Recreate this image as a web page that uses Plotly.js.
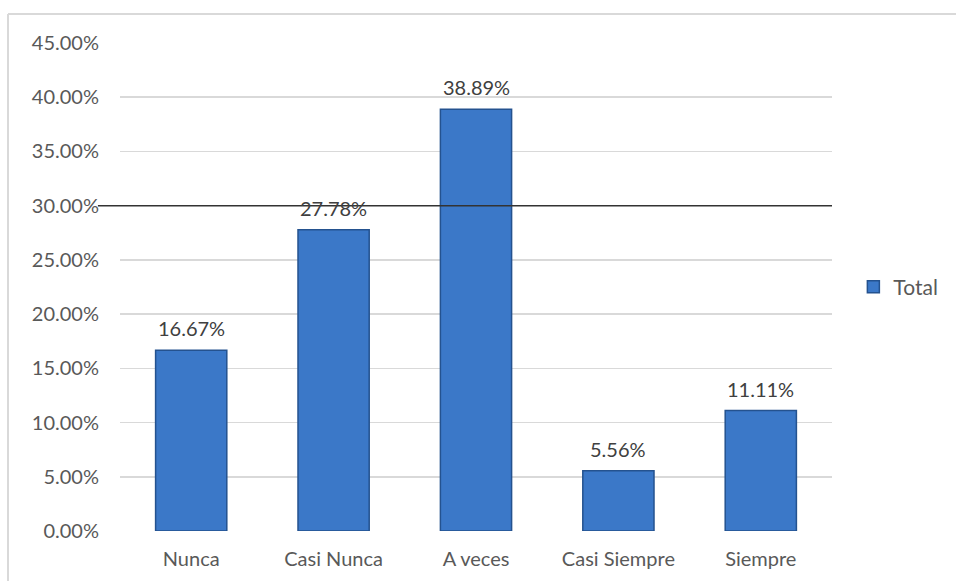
<!DOCTYPE html>
<html><head><meta charset="utf-8">
<script src="https://cdn.plot.ly/plotly-3.0.1.min.js"></script>
<style>html,body{margin:0;padding:0;background:#fff;}#c{width:956px;height:581px;}</style>
</head><body><div id="c"></div>
<script>
const categories = ["Nunca", "Casi Nunca", "A veces", "Casi Siempre", "Siempre"];
const totals = [0.1667, 0.2778, 0.3889, 0.0556, 0.1111];
const tickValues = [0, 0.05, 0.10, 0.15, 0.20, 0.25, 0.30, 0.35, 0.40, 0.45];
const referenceLine = 0.30;
const seriesName = "Total";

const font = "Lato, 'Open Sans', sans-serif";
const txt = "#595959";

const trace = {
  type: "bar", x: categories, y: totals, name: seriesName,
  marker: {color: "#3b78c8", line: {color: "#24528f", width: 1.5}},
  width: 0.5, showlegend: true, hoverinfo: "none"
};

const annotations = categories.map((c, i) => ({
  x: c, y: totals[i], xref: "x", yref: "y",
  text: (totals[i] * 100).toFixed(2) + "%",
  showarrow: false, yanchor: "bottom", yshift: 8,
  font: {family: font, size: 20, color: "#404040"}
}));

const layout = {
  width: 956, height: 581,
  margin: {l: 120, r: 124, t: 43, b: 50, autoexpand: false},
  paper_bgcolor: "#fff", plot_bgcolor: "#fff",
  font: {family: font, size: 20, color: txt},
  xaxis: {type: "category", showgrid: false, zeroline: false, showline: false,
          ticks: "", ticklabelstandoff: 14, tickfont: {family: font, size: 20, color: txt}},
  yaxis: {range: [0, 0.45], tickvals: tickValues, tickformat: ".2%",
          showgrid: true, gridcolor: "#d9d9d9", gridwidth: 1.5, zeroline: false,
          showline: false, ticks: "", ticklabelstandoff: 20,
          tickfont: {family: font, size: 20, color: txt}},
  showlegend: true,
  legend: {x: 1.03, y: 0.5, xanchor: "left", yanchor: "middle",
           font: {family: font, size: 21, color: txt}},
  annotations: annotations,
  shapes: [
    {type: "line", xref: "paper", yref: "y", x0: -0.031, x1: 1, y0: referenceLine, y1: referenceLine,
     line: {color: "#333333", width: 1.5}, layer: "above"},
    {type: "line", xref: "paper", yref: "paper", x0: -0.1573, x1: 1.2, y0: 1.0594, y1: 1.0594,
     line: {color: "#d9d9d9", width: 2}},
    {type: "line", xref: "paper", yref: "paper", x0: -0.1573, x1: -0.1573, y0: 1.0594, y1: -0.2,
     line: {color: "#d9d9d9", width: 2}}
  ]
};
Plotly.newPlot("c", [trace], layout, {displayModeBar: false, staticPlot: true});
</script></body></html>
